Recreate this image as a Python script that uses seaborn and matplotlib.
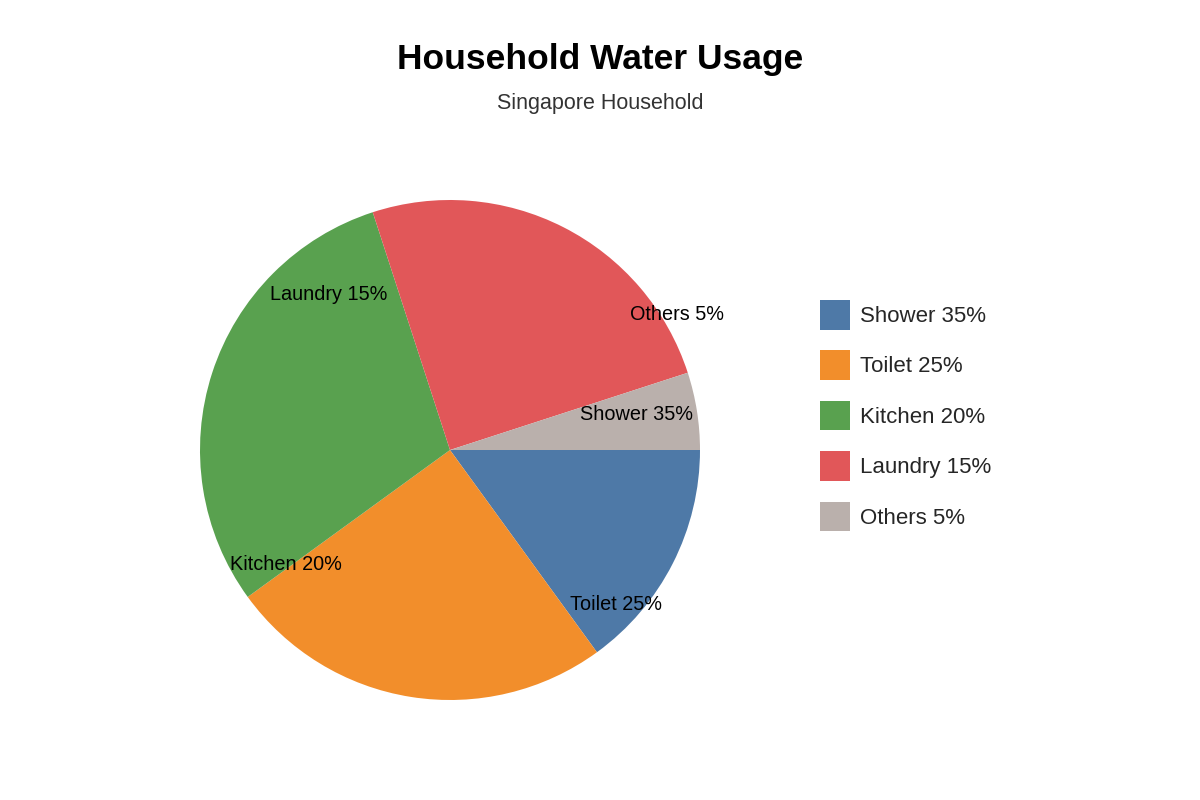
import matplotlib
matplotlib.use("Agg")
import matplotlib.pyplot as plt
import matplotlib.patches as mpatches
import seaborn as sns

# Data
categories = ["Shower", "Toilet", "Kitchen", "Laundry", "Others"]
shares = [35, 25, 20, 15, 5]              # percentages quoted in labels / legend
wedge_sizes = [15, 25, 30, 25, 5]         # slice sizes as drawn in the picture
colors = ["#4e79a7", "#f28e2b", "#59a14f", "#e15759", "#bab0ac"]

title = "Household Water Usage"
subtitle = "Singapore Household"

# Where the slice labels sit (pie radius = 1, centre = 0,0)
label_x = [0.744, 0.664, -0.656, -0.484, 0.908]
label_y = [0.140, -0.620, -0.460, 0.620, 0.540]

sns.set_theme(style="white")
plt.rcParams["font.family"] = ["Liberation Sans", "DejaVu Sans"]

fig = plt.figure(figsize=(12, 8), dpi=100)
ax = fig.add_axes([200 / 1200, 100 / 800, 500 / 1200, 500 / 800])

labels = [f"{c} {s}%" for c, s in zip(categories, shares)]

wedges, _ = ax.pie(
    wedge_sizes,
    colors=colors,
    startangle=0,
    counterclock=False,
    radius=1,
    wedgeprops={"linewidth": 0},
)
ax.set_xlim(-1, 1)
ax.set_ylim(-1, 1)
ax.set_aspect("equal")
ax.axis("off")

for lx, ly, txt in zip(label_x, label_y, labels):
    ax.text(lx, ly, txt, ha="center", va="center", fontsize=14.3, color="black")

fig.text(0.5, 1 - 59 / 800, title, ha="center", va="center",
         fontsize=25.5, fontweight="bold", color="black")
fig.text(0.5, 1 - 104 / 800, subtitle, ha="center", va="center",
         fontsize=15.5, color="#333333")

handles = [mpatches.Patch(facecolor=c, edgecolor="none", label=l)
           for c, l in zip(colors, labels)]
fig.legend(
    handles=handles,
    loc="upper left",
    bbox_to_anchor=(820 / 1200, 1 - 300 / 800),
    frameon=False,
    fontsize=16,
    handlelength=1.36,
    handleheight=1.68,
    handletextpad=0.45,
    labelspacing=0.93,
    borderpad=0,
    borderaxespad=0,
)

plt.savefig("out.png", dpi=100)
